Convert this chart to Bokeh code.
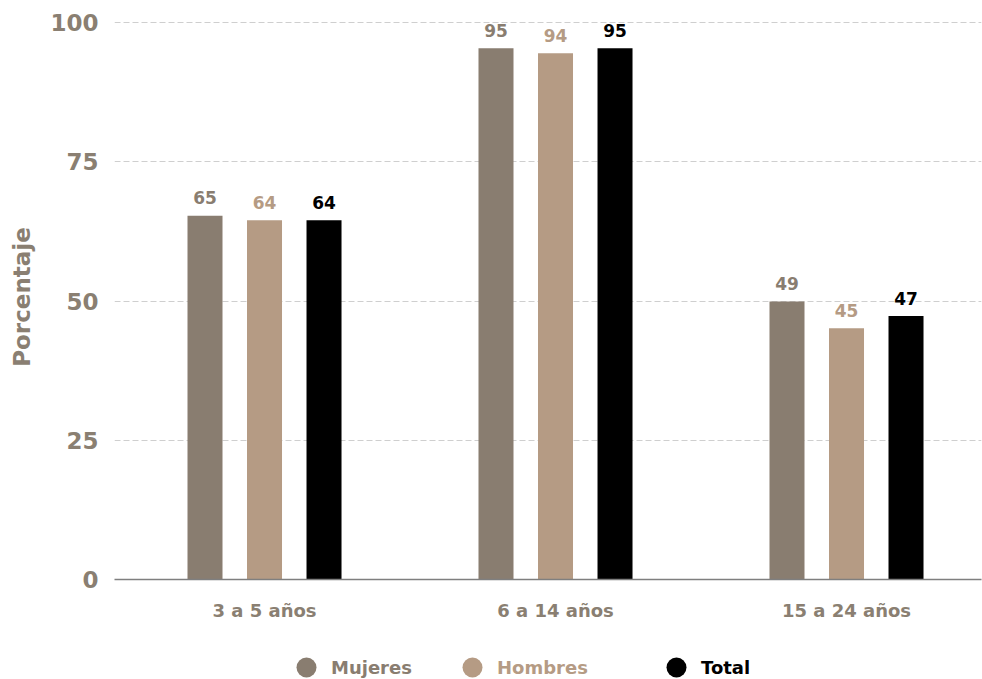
from bokeh.plotting import figure
from bokeh.layouts import column
from bokeh.models import Range1d, FixedTicker, Legend, LegendItem, ColumnDataSource
from bokeh.core.properties import value
from bokeh.embed import file_html
from bokeh.resources import INLINE

# ---- data ----
categories = ["3 a 5 años", "6 a 14 años", "15 a 24 años"]
mujeres = [65.3, 95.4, 49.9]
hombres = [64.5, 94.5, 45.1]
total = [64.5, 95.4, 47.3]
y_ticks = [0, 25, 50, 75, 100]

series = [
    ("Mujeres", mujeres, "#897d70", -1),
    ("Hombres", hombres, "#b59b84", 0),
    ("Total", total, "#000000", 1),
]

FONT = "DejaVu Sans"
TXT = "#8a7f72"

x_pos = list(range(len(categories)))
dodge = 0.2045
bar_w = 0.1203

p = figure(width=982, height=624, output_backend="svg", toolbar_location=None,
           x_range=Range1d(-0.5155, 2.4639), y_range=Range1d(0, 101.44),
           min_border_left=114, min_border_right=1, min_border_top=14,
           min_border_bottom=45)
p.outline_line_color = None
p.background_fill_color = "white"
p.border_fill_color = "white"

for name, vals, color, k in series:
    src = ColumnDataSource(dict(
        x=[xi + k * dodge for xi in x_pos],
        y=vals,
        lab=[str(int(v)) for v in vals],
    ))
    p.vbar(x="x", top="y", width=bar_w, source=src, fill_color=color, line_color=None)
    p.text(x="x", y="y", text="lab", source=src, text_align="center",
           text_baseline="alphabetic", y_offset=-18, text_color=color,
           text_font=value(FONT), text_font_style="bold", text_font_size="17px")

# axes
p.xgrid.grid_line_color = None
p.ygrid.ticker = FixedTicker(ticks=y_ticks)
p.ygrid.grid_line_color = "#cfcfcf"
p.ygrid.grid_line_dash = "6 3"
p.ygrid.grid_line_width = 1

p.yaxis.ticker = FixedTicker(ticks=y_ticks)
p.yaxis.axis_line_color = None
p.yaxis.major_tick_line_color = None
p.yaxis.minor_tick_line_color = None
p.yaxis.major_tick_in = 0
p.yaxis.major_tick_out = 0
p.yaxis.major_label_standoff = 16
p.yaxis.major_label_text_font = FONT
p.yaxis.major_label_text_font_style = "bold"
p.yaxis.major_label_text_font_size = "23px"
p.yaxis.major_label_text_color = TXT
p.yaxis.axis_label = "Porcentaje"
p.yaxis.axis_label_text_font = FONT
p.yaxis.axis_label_text_font_style = "bold"
p.yaxis.axis_label_text_font_size = "23px"
p.yaxis.axis_label_text_color = TXT
p.yaxis.axis_label_standoff = 12

p.xaxis.ticker = FixedTicker(ticks=x_pos)
p.xaxis.major_label_overrides = {i: c for i, c in zip(x_pos, categories)}
p.xaxis.axis_line_color = "#7f7f7f"
p.xaxis.axis_line_width = 1.5
p.xaxis.major_tick_line_color = None
p.xaxis.minor_tick_line_color = None
p.xaxis.major_tick_in = 0
p.xaxis.major_tick_out = 0
p.xaxis.major_label_standoff = 20
p.xaxis.major_label_text_font = FONT
p.xaxis.major_label_text_font_style = "bold"
p.xaxis.major_label_text_font_size = "18px"
p.xaxis.major_label_text_color = TXT

# legend strip below: one Legend per series so each label keeps its colour
lf = figure(width=982, height=55, output_backend="svg", toolbar_location=None,
            x_axis_type=None, y_axis_type=None,
            x_range=Range1d(10, 11), y_range=Range1d(10, 11),
            min_border_left=0, min_border_right=0, min_border_top=0, min_border_bottom=0)
lf.outline_line_color = None
lf.xgrid.visible = False
lf.ygrid.visible = False

# frame of the legend strip is aligned with the chart frame (left edge at 114px)
legend_x = [167, 333, 537]
for (name, vals, color, k), lx in zip(series, legend_x):
    r = lf.scatter(x=[0], y=[0], marker="circle", fill_color=color, line_color=None)
    lg = Legend(items=[LegendItem(label=name, renderers=[r])], location=(lx, -13),
                glyph_width=50, glyph_height=50, label_standoff=0,
                padding=0, margin=0, border_line_color=None,
                background_fill_alpha=0, label_text_color=color,
                label_text_font=FONT, label_text_font_style="bold",
                label_text_font_size="18px")
    lf.add_layout(lg, "center")

open("out.html", "w").write(file_html(column(p, lf, spacing=0), INLINE))
